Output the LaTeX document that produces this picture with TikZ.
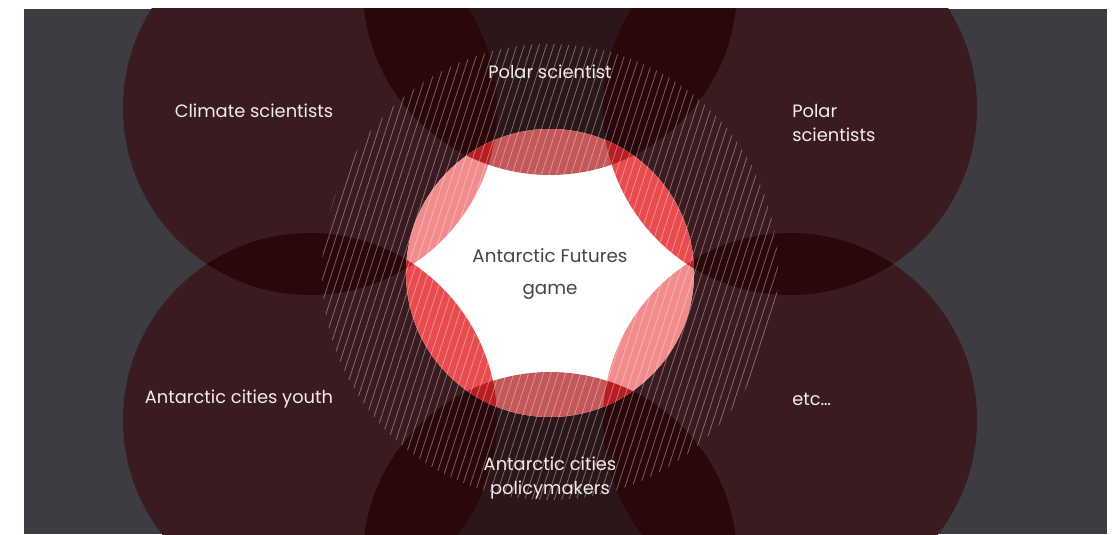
\documentclass[tikz,border=0pt]{standalone}
\usepackage{fontspec}
\setmainfont{Poppins}
\definecolor{bgslate}{HTML}{3C3C42}
\definecolor{ringside}{HTML}{3A1B1F}
\definecolor{ringaxis}{HTML}{2B1719}
\definecolor{ringdeep}{HTML}{2A0709}
\definecolor{lenspale}{HTML}{F28B8B}
\definecolor{lensred}{HTML}{E94C4E}
\definecolor{lensmute}{HTML}{C45757}
\definecolor{lensdeep}{HTML}{B81D21}
\definecolor{inkgrey}{HTML}{45444A}
\definecolor{inklight}{HTML}{F2ECEC}
\newcommand\rOuter{187}
\newcommand\rInner{144}
\newcommand\rHatch{228}

\begin{document}
\begin{tikzpicture}[x=0.025cm, y=0.025cm,
  lbl/.style={font=\fontsize{12.7}{17}\selectfont, text=inklight,
              align=center, inner sep=0pt},
  hatch/.style={white, opacity=0.35, line width=0.6pt},
]
\useasboundingbox (0,0) rectangle (1116,534);
% ---- centres ----
\coordinate (core) at (550,261);
\coordinate (ring) at (550,262);
\coordinate (tl)  at (310,426);
\coordinate (top) at (550,546);
\coordinate (tr)  at (790,426);
\coordinate (bl)  at (310,114);
\coordinate (bot) at (550,-25);
\coordinate (br)  at (790,114);

\begin{scope}
\clip (24,0) rectangle (1107,525);
\fill[bgslate] (24,0) rectangle (1107,525);

% ---- six audience circles ----
\foreach \p in {tl,tr,bl,br} \fill[ringside] (\p) circle (\rOuter);
\foreach \p in {top,bot} \fill[ringaxis] (\p) circle (\rOuter);

% ---- where neighbours overlap ----
\foreach \a/\b in {tl/top,top/tr,tl/bl,tr/br,bl/bot,bot/br}{
  \begin{scope}
    \clip (\a) circle (\rOuter);
    \fill[ringdeep] (\b) circle (\rOuter);
  \end{scope}
}

% ---- the game in the middle ----
\fill[white] (core) circle (\rInner);
\foreach \p/\col in {tl/lenspale,br/lenspale,tr/lensred,bl/lensred,
                     top/lensmute,bot/lensmute}{
  \begin{scope}
    \clip (core) circle (\rInner);
    \fill[\col] (\p) circle (\rOuter);
  \end{scope}
}
\foreach \a/\b in {tl/top,top/tr,tl/bl,tr/br,bl/bot,bot/br}{
  \begin{scope}
    \clip (core) circle (\rInner);
    \clip (\a) circle (\rOuter);
    \fill[lensdeep] (\b) circle (\rOuter);
  \end{scope}
}

% ---- hatched ring ----
\begin{scope}
  \clip (ring) circle (\rHatch);
  \foreach \i in {0,...,88}
    \draw[hatch] (150+7.4*\i, 20) -- ++(72:520);
\end{scope}
\end{scope}

% ---- labels ----
\node[lbl] (climate) at (254,423) {Climate scientists};
\node[lbl] (polar) at (550,462) {Polar scientist};
\node[lbl, anchor=west, align=left] (polars) at (792,411) {Polar\\scientists};
\node[lbl, text=inkgrey, font=\fontsize{13}{22.7}\selectfont] (game)
  at (550,260) {Antarctic Futures\\game};
\node[lbl] (youth) at (239,135) {Antarctic cities youth};
\node[lbl, anchor=west] (etc) at (792,135) {etc\ldots};
\node[lbl] (policy) at (550,56) {Antarctic cities\\policymakers};
\end{tikzpicture}
\end{document}
